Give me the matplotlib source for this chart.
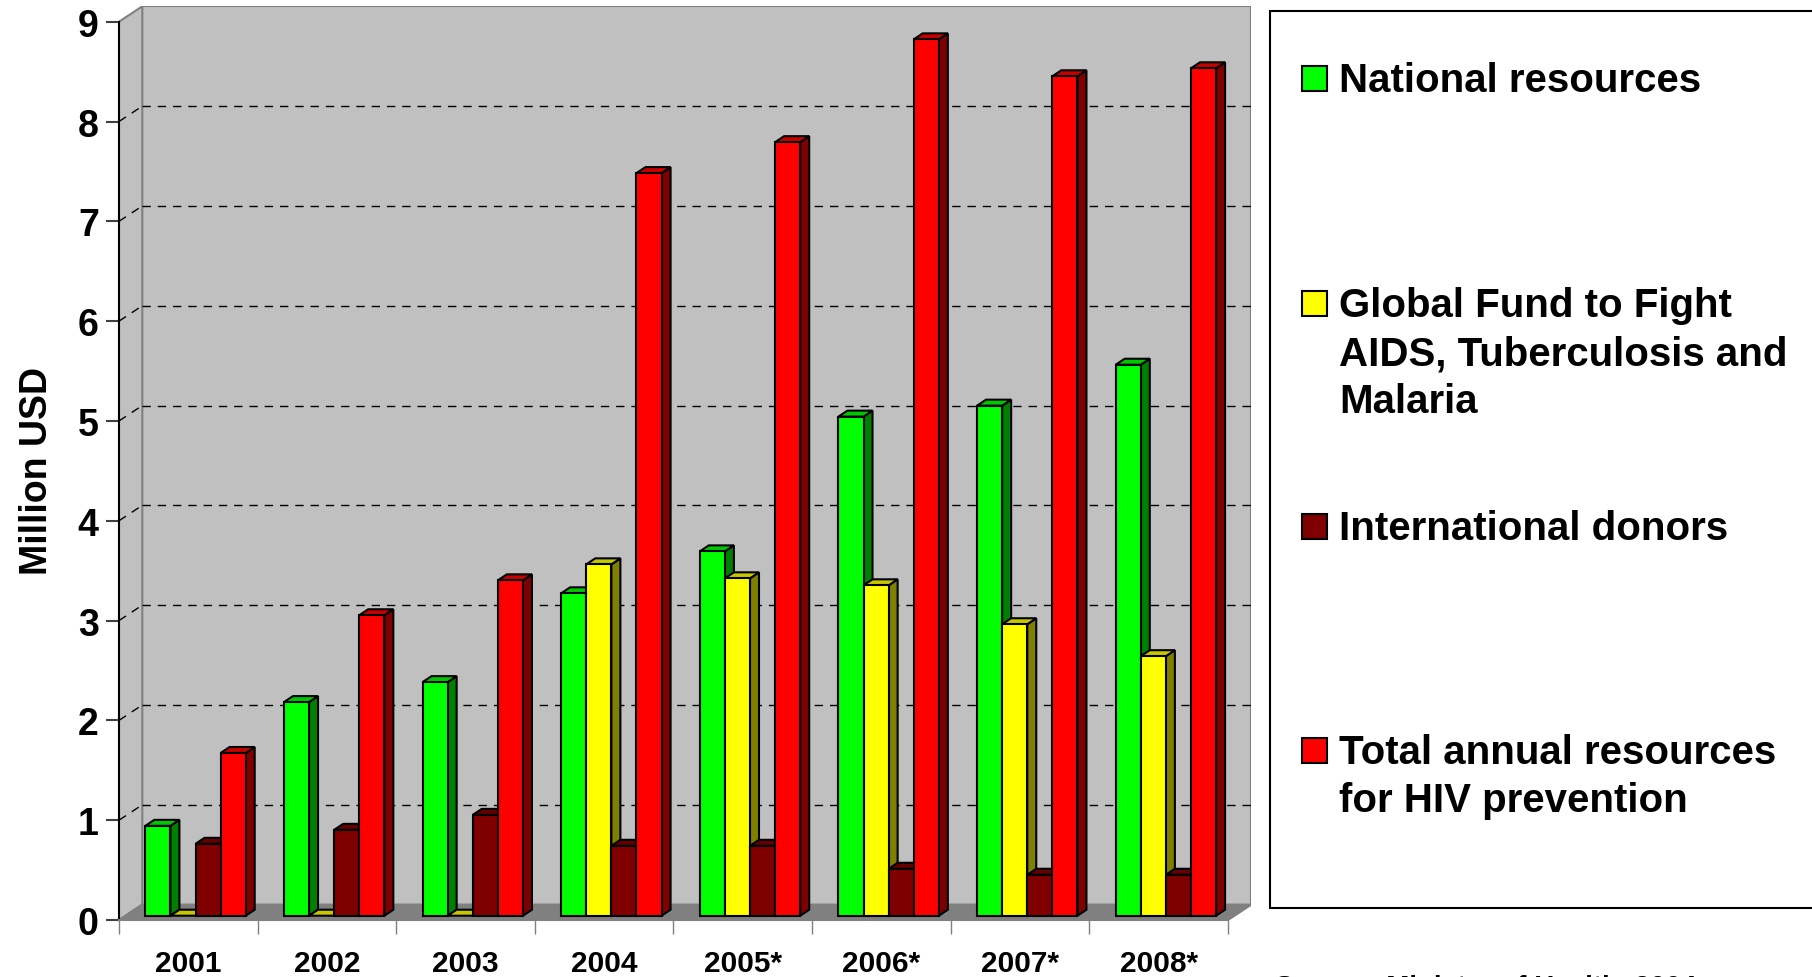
"""
HIV prevention funding by source, 2001-2008, drawn as a pseudo-3D column chart.
"""
import numpy as np
import matplotlib
matplotlib.use("Agg")
import matplotlib.pyplot as plt
from matplotlib.patches import Polygon, Rectangle
from matplotlib.colors import to_rgb

plt.rcParams["font.family"] = ["Liberation Sans", "DejaVu Sans"]
plt.rcParams["font.weight"] = "bold"

YEARS = ["2001", "2002", "2003", "2004", "2005*", "2006*", "2007*", "2008*"]
national      = [0.90, 2.14, 2.34, 3.23, 3.65, 5.00, 5.11, 5.52]
global_fund   = [0.00, 0.00, 0.00, 3.52, 3.38, 3.31, 2.92, 2.60]
intl_donors   = [0.72, 0.86, 1.01, 0.70, 0.70, 0.47, 0.41, 0.41]
total_annual  = [1.63, 3.01, 3.36, 7.44, 7.75, 8.78, 8.41, 8.49]

SERIES = [national, global_fund, intl_donors, total_annual]
LABELS = ["National resources",
          "Global Fund to Fight\nAIDS, Tuberculosis and\nMalaria",
          "International donors",
          "Total annual resources\nfor HIV prevention"]
COLOURS = ["#00ff00", "#ffff00", "#800000", "#ff0000"]
Y_TICKS = list(range(10))

W, H = 1812, 978
# plot geometry in pixels
X0, X1 = 119, 1251          # front y-axis, right edge of back wall
Y0, YTOP = 921, 7.3         # zero line (front), top of back wall
PX_CAT = (1228 - X0) / 8    # pixels per category
PX_VAL = (Y0 - 22.7) / 9    # pixels per unit

DX = 23.3 / PX_CAT          # wall depth in data units
DY = 15.4 / PX_VAL
BAR_OFF = 26.3 / PX_CAT
BAR_W = 25.1 / PX_CAT
BAR_DX = 9.0 / PX_CAT
BAR_DY = 6.0 / PX_VAL
BAR_BASE = 4.3 / PX_VAL


def shade(c, f):
    r, g, b = to_rgb(c)
    return (r * f, g * f, b * f)


fig = plt.figure(figsize=(W / 100, H / 100), dpi=100)
ax = fig.add_axes([X0 / W, 1 - Y0 / H, (X1 - X0) / W, (Y0 - YTOP) / H])
ax.set_xlim(0, (X1 - X0) / PX_CAT)
ax.set_ylim(0, (Y0 - YTOP) / PX_VAL)
ax.patch.set_visible(False)

# walls and floor
ncat = len(YEARS)
ax.add_patch(Polygon([(DX, DY), (ncat + DX, DY), (ncat + DX, 9 + DY), (DX, 9 + DY)],
                     closed=True, fc="#c0c0c0", ec="#808080", lw=1.5, zorder=0))
ax.add_patch(Polygon([(0, 0), (DX, DY), (DX, 9 + DY), (0, 9)],
                     closed=True, fc="#c0c0c0", ec="#808080", lw=1.5, zorder=0))
ax.add_patch(Polygon([(0, 0), (ncat, 0), (ncat + DX, DY), (DX, DY)],
                     closed=True, fc="#808080", ec="#808080", lw=1.5, zorder=0.5))

for v in Y_TICKS[1:-1]:
    ax.plot([DX, ncat + DX], [v + DY, v + DY], color="black", lw=1,
            ls=(0, (6, 5)), zorder=0.6)
    ax.plot([0, DX], [v, v + DY], color="black", lw=1, ls=(0, (6, 5)), zorder=0.6)

# bars
for i in range(ncat):
    for j, (vals, col) in enumerate(zip(SERIES, COLOURS)):
        x = i + BAR_OFF + j * BAR_W
        y0 = BAR_BASE
        top = y0 + vals[i]
        side = [(x + BAR_W, y0), (x + BAR_W + BAR_DX, y0 + BAR_DY),
                (x + BAR_W + BAR_DX, top + BAR_DY), (x + BAR_W, top)]
        lid = [(x, top), (x + BAR_W, top), (x + BAR_W + BAR_DX, top + BAR_DY),
               (x + BAR_DX, top + BAR_DY)]
        z = 1 + i * 0.1 + j * 0.01
        ax.add_patch(Polygon(side, closed=True, fc=shade(col, 0.5), ec="black",
                             lw=1.5, zorder=z))
        ax.add_patch(Polygon(lid, closed=True, fc=shade(col, 0.78), ec="black",
                             lw=1.5, zorder=z + 0.001))
        if vals[i] > 0:
            ax.add_patch(Rectangle((x, y0), BAR_W, vals[i], fc=col, ec="black",
                                   lw=1.5, zorder=z + 0.002))

# axes
for s in ["top", "right"]:
    ax.spines[s].set_visible(False)
ax.spines["left"].set_bounds(0, 9)
ax.spines["left"].set_color("black")
ax.spines["left"].set_linewidth(1.5)
ax.spines["bottom"].set_bounds(0, ncat)
ax.spines["bottom"].set_color("#808080")
ax.spines["bottom"].set_linewidth(1.5)
ax.spines["left"].set_zorder(3)
ax.spines["bottom"].set_zorder(3)

ax.set_yticks(Y_TICKS)
ax.set_yticklabels([str(t) for t in Y_TICKS], fontsize=27, fontweight="bold")
ax.tick_params(axis="y", length=9.5, width=1.5, color="#404040", pad=5)

ax.set_xticks(np.arange(ncat + 1))
ax.set_xticklabels([])
ax.tick_params(axis="x", which="major", length=10, width=1, color="#808080")
ax.set_xticks(np.arange(ncat) + 0.5, minor=True)
ax.set_xticklabels(YEARS, minor=True, fontsize=21.5, fontweight="bold")
ax.tick_params(axis="x", which="minor", length=0, pad=21)

ax.set_ylabel("Million USD", fontsize=27, fontweight="bold", va="center")
ax.yaxis.set_label_coords(-(X0 - 37) / (X1 - X0), (Y0 - 471) / (Y0 - YTOP))

# legend and source note in pixel coordinates
ov = fig.add_axes([0, 0, 1, 1])
ov.set_xlim(0, W)
ov.set_ylim(H, 0)
ov.axis("off")
ov.patch.set_visible(False)
ov.add_patch(Rectangle((1270, 11.7), 600, 909 - 11.7, fc="white", ec="black",
                       lw=1.5, clip_on=False))

leg_first_line = [81, 306, 529, 753]
line_gap = 48
for lab, col, yc in zip(LABELS, COLOURS, leg_first_line):
    ov.add_patch(Rectangle((1302, yc - 14), 25, 25, fc=col, ec="black", lw=1.5))
    for k, line in enumerate(lab.split("\n")):
        ov.text(1339, yc + k * line_gap, line, fontsize=29, fontweight="bold",
                va="center", ha="left")

ov.text(1275, 975, "Source: Ministry of Health, 2004", fontsize=20,
        fontweight="bold", va="top", ha="left")

fig.savefig("out.png", dpi=100)
